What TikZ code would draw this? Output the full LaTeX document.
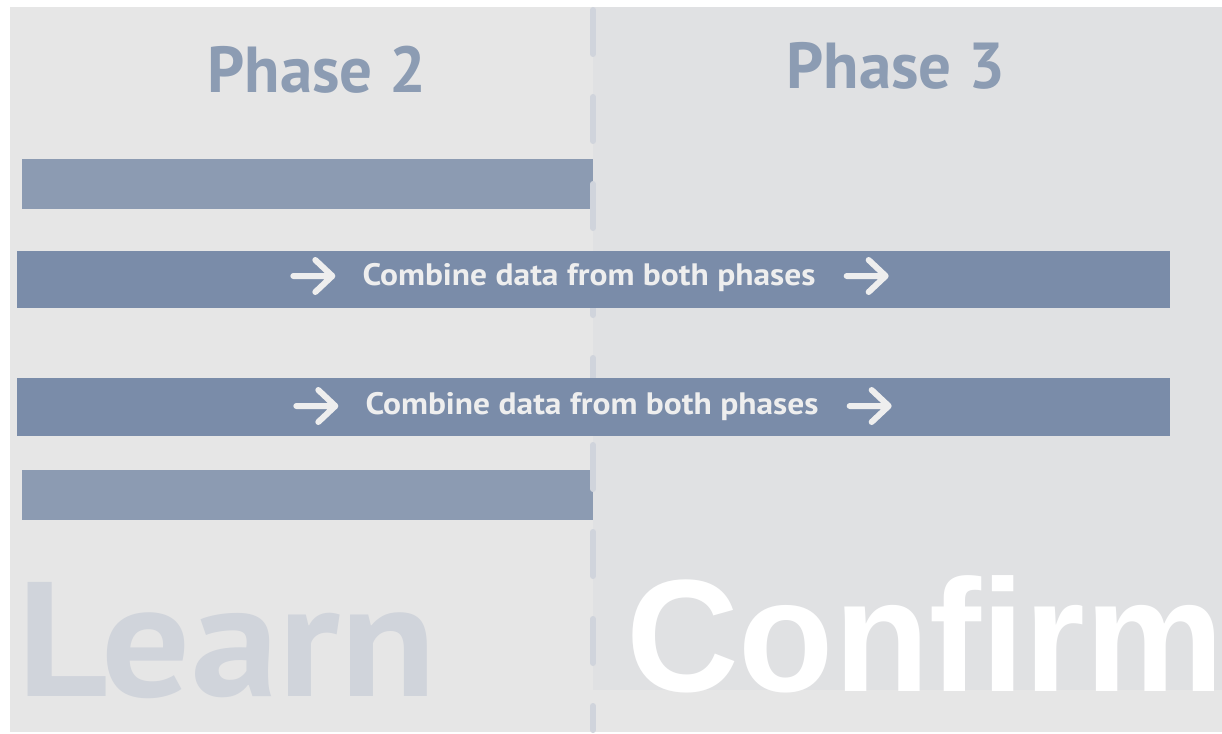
\documentclass[tikz,border=0pt]{standalone}
\usepackage{fontspec}
\usepackage{graphicx}
\setsansfont{PT Sans}
\newfontfamily\arialfont{Liberation Sans}
\usepackage{tikz}
\usetikzlibrary{positioning, calc}
\definecolor{bgleft}{HTML}{E6E6E6}
\definecolor{bgright}{HTML}{E0E1E3}
\definecolor{divgrey}{HTML}{D0D4DC}
\definecolor{barlight}{HTML}{8C9BB2}
\definecolor{bardark}{HTML}{7A8CA9}
\definecolor{titleblue}{HTML}{8C9CB3}
\definecolor{ghost}{HTML}{D0D4DB}
\definecolor{arrowwhite}{HTML}{EEEEEE}
\newcommand{\widen}[2]{\scalebox{#1}[1]{#2}}
\tikzset{
  phase/.style={font=\sffamily\bfseries\fontsize{65}{65}\selectfont, text=titleblue, inner sep=0pt, anchor=base},
  bartext/.style={font=\sffamily\bfseries\fontsize{31}{31}\selectfont, text=arrowwhite, inner sep=0pt, anchor=base},
  arrowline/.style={draw=arrowwhite, line width=6pt, line cap=round, line join=round},
  chevron/.pic={\draw[arrowline] (0,0) -- (39,0) (22,-16) -- (39,0) -- (22,16);},
  divider/.style={draw=divgrey, line width=6pt, line cap=round, dash pattern=on 44pt off 43pt}
}

\begin{document}
\begin{tikzpicture}[x=1pt,y=-1pt]
    \useasboundingbox (0,0) rectangle (1222,733);
    \fill[white] (0,0) rectangle (1222,733);
    \fill[bgleft] (10,7) rectangle (1222,732);
    \fill[bgright] (593,7) rectangle (1222,690);

    % short bars, left phase only
    \fill[barlight] (22,159) rectangle (593,209);
    \fill[barlight] (22,470) rectangle (593,520);

    \draw[divider] (593,10) -- (593,730);

    % long bars across both phases
    \fill[bardark] (17,251) rectangle (1170,308);
    \fill[bardark] (17,378) rectangle (1170,436);

    \node[phase] (p2) at (317,93) {Phase 2};
    \node[phase] (p3) at (896,89) {Phase 3};

    \node[bartext] (c1) at (589,285) {\widen{1.08}{Combine data from both phases}};
    \node[bartext] (c2) at (592,414) {\widen{1.08}{Combine data from both phases}};
    \pic at ($(c1.west |- 0,276)+(-69,0)$) {chevron};
    \pic at ($(c1.east |- 0,276)+(31,0)$) {chevron};
    \pic at ($(c2.west |- 0,406)+(-69,0)$) {chevron};
    \pic at ($(c2.east |- 0,406)+(31,0)$) {chevron};

    \node[font=\sffamily\bfseries\fontsize{163}{163}\selectfont, text=ghost, inner sep=0pt, anchor=base west] (learn) at (17,696) {\widen{1.08}{Learn}};
    \node[font=\arialfont\bfseries\fontsize{160}{160}\selectfont, text=white, inner sep=0pt, anchor=base west] (confirm) at (626,691) {\widen{0.975}{Confirm}};
\end{tikzpicture}
\end{document}
